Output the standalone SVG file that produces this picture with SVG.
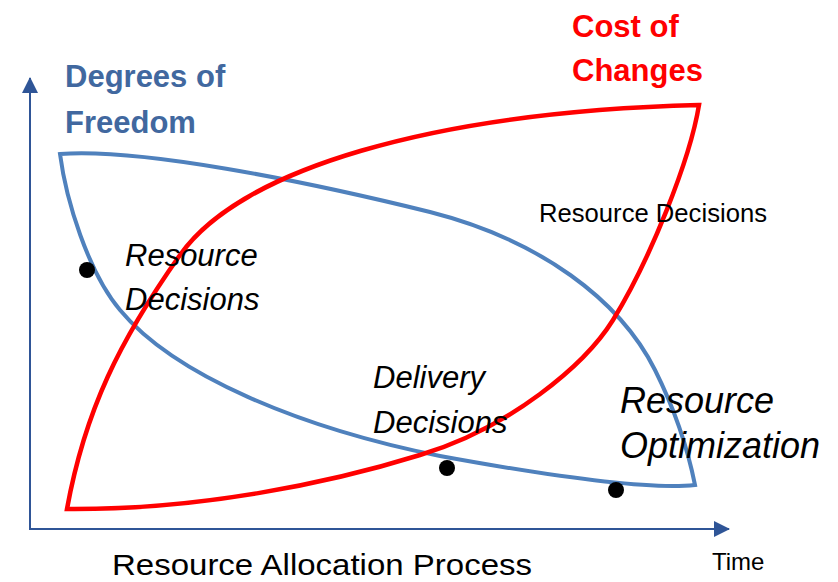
<svg xmlns="http://www.w3.org/2000/svg" width="838" height="582" viewBox="0 0 838 582">
<style>
.axis{stroke:#2F5597;stroke-width:2;fill:none}
.blue{stroke:#4F81BD;stroke-width:4;fill:none;stroke-linejoin:miter}
.red{stroke:#FF0000;stroke-width:4.5;fill:none;stroke-linejoin:miter}
.dot{fill:#000}
.t{font-family:"Liberation Sans",Arial,sans-serif;fill:#000}
.b{font-weight:bold;font-size:31px}
.it{font-style:italic}
</style>
<defs>
<marker id="arr" viewBox="0 0 16 16" refX="15" refY="8" markerWidth="16" markerHeight="16" markerUnits="userSpaceOnUse" orient="auto">
<path d="M0,0 L16,8 L0,16 Z" fill="#2F5597"/>
</marker>
</defs>
<rect width="838" height="582" fill="#fff"/>
<g id="connectors">
<line class="axis" x1="30" y1="529" x2="30" y2="78" marker-end="url(#arr)"/>
<line class="axis" x1="29" y1="529" x2="729" y2="529" marker-end="url(#arr)"/>
</g>
<g id="degrees-of-freedom">
<path class="blue" d="M60,154 C140,148 300,180 430,212 C540,240 620,300 655,370 C675,410 688,450 695,485 C650,490 560,478 440,456 C300,428 174,375 120,310 C88,272 66,200 60,154 Z"/>
<text class="t b" x="65" y="87" style="fill:#41689F">Degrees of</text>
<text class="t b" x="65" y="133" style="fill:#41689F">Freedom</text>
</g>
<g id="cost-of-changes">
<path class="red" d="M67,509 C85,410 120,340 180,255 C240,170 430,112 699,105 C690,160 650,260 613,320 C585,365 510,428 420,455 C330,483 200,510 67,509 Z"/>
<text class="t b" x="572" y="37" style="fill:#FF0000">Cost of</text>
<text class="t b" x="572" y="81" style="fill:#FF0000">Changes</text>
</g>
<g id="resource-decisions-right">
<text class="t" x="539" y="222" font-size="25" textLength="228" lengthAdjust="spacingAndGlyphs">Resource Decisions</text>
</g>
<g id="resource-decisions-left">
<circle class="dot" cx="87" cy="270" r="8"/>
<text class="t it" x="125" y="266" font-size="31">Resource</text>
<text class="t it" x="125" y="310" font-size="31">Decisions</text>
</g>
<g id="delivery-decisions">
<circle class="dot" cx="447" cy="468" r="8"/>
<text class="t it" x="373" y="388" font-size="31">Delivery</text>
<text class="t it" x="373" y="433" font-size="31">Decisions</text>
</g>
<g id="resource-optimization">
<circle class="dot" cx="616" cy="490" r="8"/>
<text class="t it" x="620" y="413" font-size="36">Resource</text>
<text class="t it" x="620" y="458" font-size="36">Optimization</text>
</g>
<g id="labels">
<text class="t" x="112" y="575" font-size="30" textLength="420" lengthAdjust="spacingAndGlyphs">Resource Allocation Process</text>
<text class="t" x="712" y="570" font-size="24">Time</text>
</g>
</svg>
